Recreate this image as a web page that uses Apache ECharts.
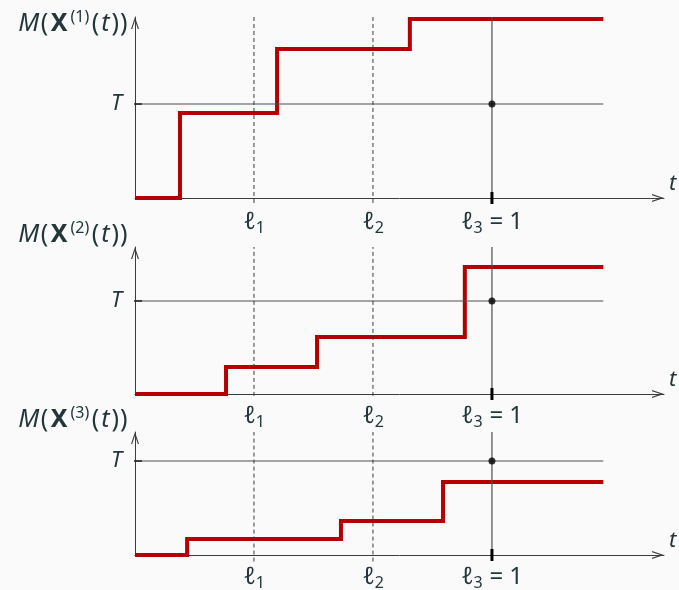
<!DOCTYPE html>
<html>
<head>
<meta charset="utf-8">
<script src="https://cdn.jsdelivr.net/npm/echarts@6/dist/echarts.min.js"></script>
<style>
html,body{margin:0;padding:0;background:#fafafa;}
#c{width:679px;height:590px;}
</style>
</head>
<body>
<div id="c"></div>
<script>
// ---- data ----
const panelIds = ['1', '2', '3'];
const stepT1 = [0, 0.126, 0.398, 0.770, 1.312];
const stepM1 = [0, 0.904, 1.585, 1.904, 1.904];
const stepT2 = [0, 0.255, 0.510, 0.924, 1.312];
const stepM2 = [0, 0.290, 0.613, 1.366, 1.366];
const stepT3 = [0, 0.146, 0.577, 0.863, 1.312];
const stepM3 = [0, 0.170, 0.362, 0.777, 0.777];
const levelPositions = [1 / 3, 2 / 3, 1];
const levelTickLabels = ['{l|ℓ}{s|1}', '{l|ℓ}{s|2}', '{l|ℓ}{s|3}{e|=}{n|1}'];
const thresholdT = 1;
const thresholdLabel = 'T';
const yTops = [1.926, 1.58, 1.309];
const xMax = 1.482;
const lineEnd = 1.312;

// ---- layout / styling ----
const FONT = "'Noto Sans', 'DejaVu Sans', sans-serif";
const TXT = '#23373b';
const RED = '#b40000';
const GRAY = '#4e4e4e';
const AXIS = '#3c3c3c';
const gridTops = [17, 247, 432];
const gridHeights = [181, 147, 123];
const nameGaps = [-7, 12, 12];
const labelMargins = [9, 7, 7];
const arrowPath = 'path://M0,12 L4,0 L8,12 L6.8,12 L4,3.6 L1.2,12 Z';

const stepsT = [stepT1, stepT2, stepT3];
const stepsM = [stepM1, stepM2, stepM3];

const grids = [], xAxes = [], yAxes = [], series = [];

function lineSeries(i, data, style, z, extra) {
  return Object.assign({
    type: 'line', xAxisIndex: i, yAxisIndex: i, data: data,
    symbol: 'none', showSymbol: false, silent: true, clip: false,
    animation: false, z: z, lineStyle: style
  }, extra || {});
}

const nameRich = {
  i: { fontFamily: FONT, fontSize: 25, fontStyle: 'italic', color: TXT, lineHeight: 30, verticalAlign: 'middle', padding: [0, 1, 0, 0] },
  t: { fontFamily: FONT, fontSize: 25, fontStyle: 'italic', color: TXT, lineHeight: 30, verticalAlign: 'middle', padding: [0, 1.5, 0, 1.5] },
  p: { fontFamily: FONT, fontSize: 25, color: TXT, lineHeight: 30, verticalAlign: 'middle', padding: [0, 0.5, 0, 0.5] },
  b: { fontFamily: FONT, fontSize: 25, fontWeight: 'bold', color: TXT, lineHeight: 30, verticalAlign: 'middle', padding: [0, 2, 0, 2] },
  sup: { fontFamily: FONT, fontSize: 16, color: TXT, lineHeight: 20, verticalAlign: 'top', padding: [0, 2, 0, 1] }
};

panelIds.forEach(function (id, i) {
  grids.push({
    left: 135, width: 529, top: gridTops[i], height: gridHeights[i],
    containLabel: false, outerBoundsMode: 'none'
  });
  xAxes.push({
    type: 'value', gridIndex: i, min: 0, max: xMax,
    name: 't', nameLocation: 'end', nameGap: 5,
    nameTextStyle: { fontFamily: FONT, fontSize: 22, fontStyle: 'italic', color: TXT,
      align: 'left', verticalAlign: 'bottom', padding: [0, 0, 3, 0] },
    axisLine: { show: true, symbol: ['none', arrowPath], symbolSize: [8, 12], symbolOffset: [0, -6],
      lineStyle: { color: AXIS, width: 1 } },
    axisTick: { show: false },
    splitLine: { show: false },
    axisLabel: {
      show: true, customValues: levelPositions, margin: labelMargins[i],
      fontFamily: FONT, color: TXT,
      formatter: function (v) {
        let k = 0, best = 1e9;
        levelPositions.forEach(function (p, j) { if (Math.abs(p - v) < best) { best = Math.abs(p - v); k = j; } });
        return levelTickLabels[k];
      },
      rich: {
        l: { fontFamily: FONT, fontSize: 24, fontStyle: 'italic', color: TXT, lineHeight: 30, verticalAlign: 'middle' },
        s: { fontFamily: FONT, fontSize: 16, color: TXT, lineHeight: 16, verticalAlign: 'bottom', padding: [0, 0, 1, 0] },
        e: { fontFamily: FONT, fontSize: 24, color: TXT, lineHeight: 30, verticalAlign: 'middle', padding: [0, 6, 0, 7] },
        n: { fontFamily: FONT, fontSize: 24, color: TXT, lineHeight: 30, verticalAlign: 'middle' }
      }
    }
  });
  yAxes.push({
    type: 'value', gridIndex: i, min: 0, max: yTops[i],
    name: '{i|M}{p|(}{b|X}{sup|(' + id + ')}{p|(}{t|t}{p|)}{p|)}',
    nameLocation: 'end', nameGap: nameGaps[i],
    nameTextStyle: {
      align: 'right', verticalAlign: 'middle', padding: [0, 7, 0, 0],
      fontFamily: FONT, fontSize: 25, color: TXT,
      rich: nameRich
    },
    axisLine: { show: true, symbol: ['none', arrowPath], symbolSize: [8, 12], symbolOffset: [0, -6],
      lineStyle: { color: AXIS, width: 1 } },
    axisTick: { show: false },
    splitLine: { show: false },
    axisLabel: {
      show: true, customValues: [thresholdT], margin: 13,
      formatter: function () { return thresholdLabel; },
      fontFamily: FONT, fontSize: 22, fontStyle: 'italic', color: TXT
    }
  });

  const yTop = yTops[i];
  // red step curve
  series.push(lineSeries(i, stepsT[i].map(function (t, j) { return [t, stepsM[i][j]]; }),
    { color: RED, width: 4, cap: 'butt', join: 'miter' }, 2, { step: 'end' }));
  // threshold line
  series.push(lineSeries(i, [[0, thresholdT], [lineEnd, thresholdT]], { color: GRAY, width: 1.1 }, 3));
  // threshold tick across y axis
  series.push(lineSeries(i, [[-0.0196, thresholdT], [0.0196, thresholdT]], { color: '#222', width: 1.5 }, 4));
  // dashed level lines
  const below = i === 1 ? -0.02 : (i === 2 ? -0.07 : -0.053);
  [levelPositions[0], levelPositions[1]].forEach(function (l) {
    series.push(lineSeries(i, [[l, below], [l, yTop]], { color: '#3a3a3a', width: 1, type: [4, 3] }, 3));
  });
  // solid level line at ℓ3
  series.push(lineSeries(i, [[levelPositions[2], 0], [levelPositions[2], yTop]], { color: GRAY, width: 1.2 }, 3));
  // thick tick at ℓ3 on the t axis
  const tk = 6 / (gridHeights[i] / yTop);
  series.push(lineSeries(i, [[levelPositions[2], -tk], [levelPositions[2], tk]], { color: '#000', width: 3 }, 4));
  // dot at (ℓ3, T)
  series.push({
    type: 'scatter', xAxisIndex: i, yAxisIndex: i, data: [[levelPositions[2], thresholdT]],
    symbolSize: 7, itemStyle: { color: '#000' }, silent: true, animation: false, z: 5
  });
});

const chart = echarts.init(document.getElementById('c'), null, { renderer: 'canvas' });
chart.setOption({
  backgroundColor: '#fafafa',
  animation: false,
  grid: grids,
  xAxis: xAxes,
  yAxis: yAxes,
  series: series
});
</script>
</body>
</html>
